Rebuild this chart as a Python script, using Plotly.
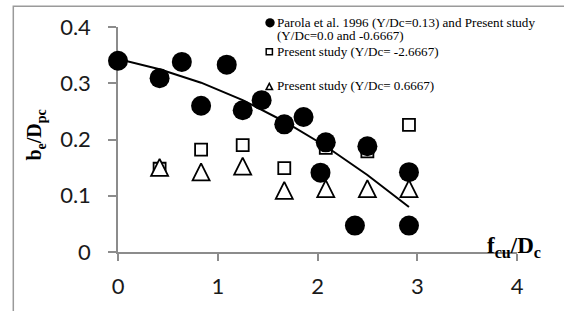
import plotly.graph_objects as go

# ---------------- data ----------------
circle_x = [0.0, 0.417, 0.64, 0.833, 1.09, 1.25, 1.44, 1.667, 1.86, 2.083, 2.03, 2.5, 2.375, 2.917, 2.917]
circle_y = [0.340, 0.309, 0.338, 0.260, 0.333, 0.252, 0.270, 0.227, 0.240, 0.195, 0.141, 0.188, 0.047, 0.142, 0.047]

square_x = [0.417, 0.833, 1.25, 1.667, 2.083, 2.5, 2.917]
square_y = [0.148, 0.182, 0.190, 0.149, 0.185, 0.179, 0.226]

triangle_x = [0.417, 0.833, 1.25, 1.667, 2.083, 2.5, 2.917]
triangle_y = [0.151, 0.143, 0.153, 0.110, 0.113, 0.113, 0.113]

trend_x = [0.0, 0.417, 0.833, 1.25, 1.667, 2.083, 2.5, 2.917]
trend_y = [0.343, 0.325, 0.301, 0.270, 0.232, 0.188, 0.137, 0.080]

x_ticks = [0, 1, 2, 3, 4]
y_ticks = [0, 0.1, 0.2, 0.3, 0.4]

legend_lines = [
    "Parola et al. 1996 (Y/Dc=0.13) and Present study",
    "(Y/Dc=0.0 and -0.6667)",
    "Present study (Y/Dc= -2.6667)",
    "Present study (Y/Dc= 0.6667)",
]

# ---------------- layout geometry ----------------
W, H = 564, 311
L, R, T, B = 118, 47, 27, 52
PW, PH = W - L - R, H - T - B
Y_RANGE = 0.4
TRI_SIZE = 17
tri_shift = (TRI_SIZE / 2) / (PH / Y_RANGE)  # center the apex-anchored marker


def xp(px):
    return (px - L) / PW


def yp(py):
    return (H - B - py) / PH


AX = "#8c8c8c"

fig = go.Figure()

fig.add_trace(go.Scatter(
    x=square_x, y=square_y, mode="markers", cliponaxis=False,
    marker=dict(symbol="square", size=12, color="white",
                line=dict(color="black", width=1.8)),
    showlegend=False, hoverinfo="skip"))

fig.add_trace(go.Scatter(
    x=circle_x, y=circle_y, mode="markers", cliponaxis=False,
    marker=dict(symbol="circle", size=20, color="black",
                line=dict(width=0)),
    showlegend=False, hoverinfo="skip"))

fig.add_trace(go.Scatter(
    x=triangle_x, y=triangle_y, mode="markers", cliponaxis=False, yaxis="y2",
    marker=dict(symbol="arrow-up", size=TRI_SIZE, color="white",
                line=dict(color="black", width=1.8)),
    showlegend=False, hoverinfo="skip"))

fig.add_trace(go.Scatter(
    x=trend_x, y=trend_y, mode="lines", cliponaxis=False,
    line=dict(color="black", width=2),
    showlegend=False, hoverinfo="skip"))

tick_font = dict(family="Lato", size=22, color="#1a1a1a")

fig.update_layout(
    width=W, height=H,
    margin=dict(l=L, r=R, t=T, b=B, pad=0),
    paper_bgcolor="white", plot_bgcolor="white",
    showlegend=False,
    xaxis=dict(range=[0, 4], tickvals=x_ticks, ticktext=[str(v) for v in x_ticks],
               showgrid=False, zeroline=False, showline=True, linecolor=AX, linewidth=1.5,
               ticks="outside", ticklen=7, tickcolor=AX, tickwidth=1.5,
               tickfont=tick_font, ticklabelstandoff=7, layer="below traces",
               fixedrange=True),
    yaxis=dict(range=[0, Y_RANGE], tickvals=y_ticks, ticktext=["0", "0.1", "0.2", "0.3", "0.4"],
               showgrid=False, zeroline=False, showline=True, linecolor=AX, linewidth=1.5,
               ticks="outside", ticklen=8, tickcolor=AX, tickwidth=1.5,
               tickfont=tick_font, ticklabelstandoff=13, layer="below traces",
               fixedrange=True),
    yaxis2=dict(range=[-tri_shift, Y_RANGE - tri_shift], overlaying="y", visible=False,
                fixedrange=True),
)

shapes = []
# outer frame
shapes.append(dict(type="rect", xref="paper", yref="paper",
                   x0=xp(13.3), x1=xp(600), y0=yp(340), y1=yp(5.7),
                   line=dict(color="#9a9a9a", width=1.5), fillcolor="rgba(0,0,0,0)",
                   layer="below"))
# legend keys
cx, cy, r = 270, 22.7, 4.7
shapes.append(dict(type="circle", xref="paper", yref="paper",
                   x0=xp(cx - r), x1=xp(cx + r), y0=yp(cy + r), y1=yp(cy - r),
                   fillcolor="black", line=dict(color="black", width=0)))
sx, sy, s = 269.3, 52.6, 3.1
shapes.append(dict(type="rect", xref="paper", yref="paper",
                   x0=xp(sx - s), x1=xp(sx + s), y0=yp(sy + s), y1=yp(sy - s),
                   fillcolor="white", line=dict(color="black", width=1.5)))
tx, ty, th = 269.3, 88.3, 3.2
shapes.append(dict(type="path", xref="paper", yref="paper",
                   path=f"M {xp(tx - th)} {yp(ty + th)} L {xp(tx + th)} {yp(ty + th)} "
                        f"L {xp(tx)} {yp(ty - th)} Z",
                   fillcolor="white", line=dict(color="black", width=1.5)))
fig.update_layout(shapes=shapes)

ann = []
legend_y = [22.7, 36.2, 52.6, 87.6]
for txt, ly in zip(legend_lines, legend_y):
    ann.append(dict(text=txt, xref="paper", yref="paper", x=xp(275.3), y=yp(ly),
                    xanchor="left", yanchor="middle", showarrow=False,
                    font=dict(family="Liberation Serif", size=13.1, color="black")))

ann.append(dict(text="<b>b<sub>e</sub>/D<sub>pc</sub></b>", xref="paper", yref="paper",
                x=xp(36), y=yp(139), xanchor="center", yanchor="middle",
                textangle=-90, showarrow=False,
                font=dict(family="Liberation Serif", size=20, color="black")))
ann.append(dict(text="<b>f<sub>cu</sub>/D<sub>c</sub></b>", xref="paper", yref="paper",
                x=xp(486), y=yp(269), xanchor="left", yanchor="bottom",
                showarrow=False, borderpad=0,
                font=dict(family="Liberation Serif", size=23, color="black")))
fig.update_layout(annotations=ann)

fig.write_html(
    "out.html",
    config={"displayModeBar": False},
    post_script="document.body.style.margin='0px';document.body.style.padding='0px';"
                "document.documentElement.style.overflow='hidden';",
)
